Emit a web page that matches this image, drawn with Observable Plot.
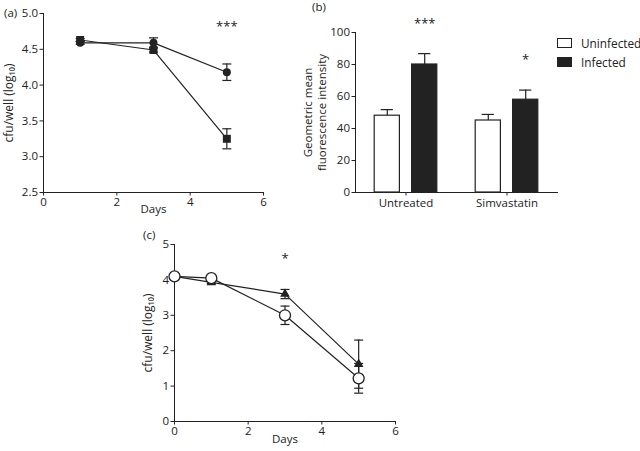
<!DOCTYPE html>
<html><head><meta charset="utf-8">
<script src="https://cdn.jsdelivr.net/npm/d3@7"></script>
<script src="https://cdn.jsdelivr.net/npm/@observablehq/plot@0.6"></script>
<style>
body{margin:0;background:#fff;font-family:"Open Sans",sans-serif;color:#222}
#wrap{position:relative;width:640px;height:451px;overflow:hidden;background:#fff}
.panel{position:absolute}
.tag{position:absolute;font-size:11.5px;line-height:1;color:#222}
.legend{position:absolute;left:557px;top:34px;font-size:11.8px;color:#222}
.legend div{display:flex;align-items:center;height:18.5px}
.legend span.sw{display:inline-block;width:13px;height:8px;border:1px solid #222;margin-right:9px;box-sizing:content-box}
</style></head><body><div id="wrap"></div>
<script>
// ---- Panel (a) data ----
const daysA = [1, 3, 5];
const circleA = [4.59, 4.59, 4.18];
const circleAErr = [0.02, 0.07, 0.115];
const squareA = [4.63, 4.49, 3.25];
const squareAErr = [0.02, 0.03, 0.14];
const sigA = [{day: 5, label: "***"}];
const yTicksA = [2.5, 3.0, 3.5, 4.0, 4.5, 5.0];
const xTicks = [0, 2, 4, 6];

// ---- Panel (b) data ----
const treatments = ["Untreated", "Simvastatin"];
const uninfected = [48, 45];
const uninfectedErr = [3.8, 3.8];
const infected = [80, 58];
const infectedErr = [6.8, 6];
const sigB = ["***", "*"];
const yTicksB = [0, 20, 40, 60, 80, 100];
const groups = ["Uninfected", "Infected"];

// ---- Panel (c) data ----
const daysC = [0, 1, 3, 5];
const circleC = [4.1, 4.05, 3.0, 1.22];
const circleCErr = [0.05, 0.05, 0.26, 0.42];
const triangleC = [4.1, 3.93, 3.6, 1.62];
const triangleCErr = [0.05, 0.03, 0.13, 0.68];
const sigC = [{day: 3, label: "*"}];
const yTicksC = [0, 1, 2, 3, 4, 5];

const INK = "#222";
const FONT = "'Open Sans', sans-serif";
const intFmt = d => String(d);
const cap = {draw(ctx) { ctx.moveTo(-4.5, 0); ctx.lineTo(4.5, 0); }};

const wrap = document.getElementById("wrap");
function place(node, left, top) {
  node.classList.add("panel");
  node.style.left = left + "px";
  node.style.top = top + "px";
  wrap.appendChild(node);
}
function tag(text, left, top) {
  const d = document.createElement("div");
  d.className = "tag"; d.textContent = text;
  d.style.left = left + "px"; d.style.top = top + "px";
  wrap.appendChild(d);
}
function errMarks(rows) {
  return [
    Plot.ruleX(rows, {x: "day", y1: d => d.value - d.err, y2: d => d.value + d.err, stroke: INK, strokeWidth: 1.2}),
    Plot.dot(rows, {x: "day", y: d => d.value + d.err, symbol: cap, fill: "none", stroke: INK, strokeWidth: 1.2}),
    Plot.dot(rows, {x: "day", y: d => d.value - d.err, symbol: cap, fill: "none", stroke: INK, strokeWidth: 1.2})
  ];
}
function yLabel(text, dx, extra = {}) {
  return Plot.text([text], {frameAnchor: "left", textAnchor: "middle", lineAnchor: "middle", dx, rotate: -90, text: d => d, fontSize: 11.5, ...extra});
}

// ---- Panel (a) ----
const circA = daysA.map((d, i) => ({day: d, value: circleA[i], err: circleAErr[i]}));
const sqA = daysA.map((d, i) => ({day: d, value: squareA[i], err: squareAErr[i]}));
const plotA = Plot.plot({
  width: 280, height: 222, marginLeft: 43, marginRight: 17, marginTop: 13, marginBottom: 30,
  style: {fontFamily: FONT, fontSize: "11.5px", color: INK, background: "white", overflow: "visible"},
  x: {domain: [0, 6], ticks: xTicks, tickFormat: intFmt, tickSize: 3.5, tickPadding: 2, line: true, label: null},
  y: {domain: [2.5, 5], ticks: yTicksA, tickFormat: ".1f", tickSize: 3.5, tickPadding: 2, line: true, label: null},
  marks: [
    ...errMarks(circA), ...errMarks(sqA),
    Plot.line(circA, {x: "day", y: "value", stroke: INK, strokeWidth: 1.2}),
    Plot.line(sqA, {x: "day", y: "value", stroke: INK, strokeWidth: 1.2}),
    Plot.dot(circA, {x: "day", y: "value", r: 4, fill: INK}),
    Plot.dot(sqA, {x: "day", y: "value", symbol: "square", r: 4.5, fill: INK}),
    Plot.text(sigA, {x: "day", frameAnchor: "top", lineAnchor: "top", dy: 8, text: "label", fontSize: 13}),
    yLabel("cfu/well (log₁₀)", -34, {fontSize: 12}),
    Plot.text(["Days"], {frameAnchor: "bottom", textAnchor: "middle", dy: 20, text: d => d, fontSize: 11.5})
  ]
});
place(plotA, 0, 0);
tag("(a)", 4, 7);

// ---- Panel (b) ----
const barsB = treatments.flatMap((t, i) => [
  {treatment: t, group: groups[0], value: uninfected[i], err: uninfectedErr[i], sig: ""},
  {treatment: t, group: groups[1], value: infected[i], err: infectedErr[i], sig: sigB[i]}
]);
const offB = {Uninfected: -18.7, Infected: 18.7};
function bMarks(g) {
  const rows = barsB.filter(d => d.group === g);
  const dx = offB[g];
  return [
    Plot.ruleX(rows, {x: "treatment", y1: "value", y2: d => d.value + d.err, dx, stroke: INK, strokeWidth: 1.2}),
    Plot.tickY(rows, {x: "treatment", y: d => d.value + d.err, dx, insetLeft: 44.4, insetRight: 44.4, stroke: INK, strokeWidth: 1.2}),
    Plot.barY(rows, {x: "treatment", y: "value", dx, insetLeft: 37.9, insetRight: 37.9,
      fill: g === "Infected" ? INK : "white", stroke: INK, strokeWidth: 1.2}),
    Plot.text(rows, {x: "treatment", y: d => d.value + d.err, dx, dy: -30, text: "sig", fontSize: 13})
  ];
}
const plotB = Plot.plot({
  width: 290, height: 222, marginLeft: 75, marginRight: 13, marginTop: 32, marginBottom: 30,
  style: {fontFamily: FONT, fontSize: "11.5px", color: INK, background: "white", overflow: "visible"},
  x: {domain: treatments, padding: 0, tickSize: 3.5, tickPadding: 3, line: true, label: null},
  y: {domain: [0, 100], ticks: yTicksB, tickFormat: intFmt, tickSize: 3.5, tickPadding: 2, line: true, label: null},
  marks: [
    ...bMarks("Uninfected"), ...bMarks("Infected"),
    yLabel("Geometric mean\nfluorescence intensity", -41, {lineHeight: 1.25})
  ]
});
place(plotB, 280, 0);
tag("(b)", 312, 1);
const leg = document.createElement("div");
leg.className = "legend";
groups.forEach(g => {
  const row = document.createElement("div");
  const sw = document.createElement("span");
  sw.className = "sw"; sw.style.background = g === "Infected" ? INK : "white";
  row.appendChild(sw); row.appendChild(document.createTextNode(g));
  leg.appendChild(row);
});
wrap.appendChild(leg);

// ---- Panel (c) ----
const circC = daysC.map((d, i) => ({day: d, value: circleC[i], err: circleCErr[i]}));
const triC = daysC.map((d, i) => ({day: d, value: triangleC[i], err: triangleCErr[i]}));
const plotC = Plot.plot({
  width: 280, height: 229, marginLeft: 34, marginRight: 25, marginTop: 22, marginBottom: 30,
  style: {fontFamily: FONT, fontSize: "11.5px", color: INK, background: "white", overflow: "visible"},
  x: {domain: [0, 6], ticks: xTicks, tickFormat: intFmt, tickSize: 3.5, tickPadding: 2, line: true, label: null},
  y: {domain: [0, 5], ticks: yTicksC, tickFormat: intFmt, tickSize: 3.5, tickPadding: 2, line: true, label: null},
  marks: [
    ...errMarks(circC), ...errMarks(triC),
    Plot.line(triC, {x: "day", y: "value", stroke: INK, strokeWidth: 1.2}),
    Plot.line(circC, {x: "day", y: "value", stroke: INK, strokeWidth: 1.2}),
    Plot.dot(triC, {x: "day", y: "value", symbol: "triangle", r: 3.6, fill: INK}),
    Plot.dot(circC, {x: "day", y: "value", r: 5.5, fill: "white", stroke: INK, strokeWidth: 1.3}),
    Plot.text(sigC, {x: "day", frameAnchor: "top", lineAnchor: "top", dy: 9.5, text: "label", fontSize: 13}),
    yLabel("cfu/well (log₁₀)", -26, {fontSize: 12}),
    Plot.text(["Days"], {frameAnchor: "bottom", textAnchor: "middle", dy: 21, text: d => d, fontSize: 11.5})
  ]
});
place(plotC, 140, 222);
tag("(c)", 143, 229);
</script></body></html>
